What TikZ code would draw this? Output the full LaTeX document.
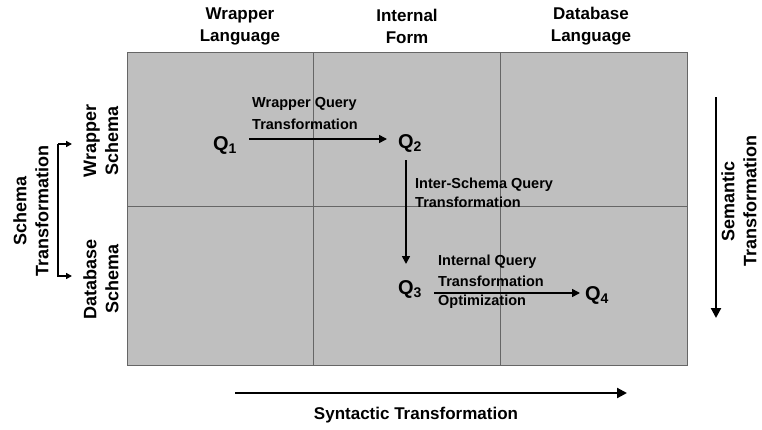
\documentclass[tikz,border=0pt]{standalone}
\usepackage{fontspec}
\setmainfont{Liberation Sans}
\usetikzlibrary{arrows.meta}
\begin{document}
\begin{tikzpicture}[x=1pt,y=-1pt,
  cell/.style={draw=black!60,line width=0.9pt},
  head/.style={font=\bfseries\fontsize{17}{22}\selectfont,align=center,inner sep=0pt},
  side/.style={head,rotate=90,font=\bfseries\fontsize{18}{22}\selectfont},
  lab/.style={font=\bfseries\fontsize{14.5}{19.5}\selectfont,align=left,inner sep=0pt},
  qn/.style={font=\bfseries\fontsize{20}{20}\selectfont,inner sep=0pt},
  flow/.style={line width=1.6pt,-{Triangle[length=8pt,width=8pt]}},
  axis/.style={line width=2.2pt,-{Triangle[length=10pt,width=10pt]}}]
\useasboundingbox (0,0) rectangle (762,429);
% grid of languages and schemas
\fill[black!25] (127,52) rectangle (687,365);
\draw[cell] (127,52) rectangle (687,365);
\draw[cell] (313,52) -- (313,365);
\draw[cell] (500,52) -- (500,365);
\draw[cell] (127,206) -- (687,206);
% column headings
\node[head] (hwl) at (240,26) {Wrapper\\Language};
\node[head] (hif) at (407,26) {Internal\\Form};
\node[head] (hdl) at (591,26) {Database\\Language};
% row headings
\node[side] (rws) at (101,141) {Wrapper\\Schema};
\node[side] (rds) at (101,279) {Database\\Schema};
\node[side] (st) at (31,211) {Schema\\Transformation};
\coordinate (bt) at (58,144);
\coordinate (bb) at (58,276);
\coordinate (btr) at (72,144);
\coordinate (bbr) at (72,276);
\draw[line width=1.6pt,-{Triangle[length=6pt,width=6pt]}] (bt) -- (bb) -- (bbr);
\draw[line width=1.6pt,-{Triangle[length=6pt,width=6pt]}] (bt) -- (btr);
% queries
\node[qn] (q1) at (225,145) {Q\textsubscript{1}};
\node[qn] (q2) at (410,143) {Q\textsubscript{2}};
\node[qn] (q3) at (410,289) {Q\textsubscript{3}};
\node[qn] (q4) at (597,295) {Q\textsubscript{4}};
\coordinate (a1s) at (249,139);
\coordinate (a1e) at (387,139);
\coordinate (a2s) at (406,160);
\coordinate (a2e) at (406,264);
\coordinate (a3s) at (434,293);
\coordinate (a3e) at (580,293);
\draw[flow] (a1s) -- (a1e);
\draw[flow] (a2s) -- (a2e);
\draw[flow] (a3s) -- (a3e);
\node[lab,anchor=west] (l1) at (252,104) {Wrapper Query};
\node[lab,anchor=west] (l1b) at (252,124) {Transformation};
\node[lab,anchor=west] (l2) at (415,185) {Inter-Schema Query};
\node[lab,anchor=west] (l2b) at (415,202) {Transformation};
\node[lab,anchor=west] (l3) at (438,262) {Internal Query};
\node[lab,anchor=west] (l3b) at (438,281) {Transformation};
\node[lab,anchor=west] (l4) at (438,302) {Optimization};
% axes
\coordinate (sa) at (716,97);
\coordinate (sb) at (716,318);
\draw[axis] (sa) -- (sb);
\node[side] (sem) at (739,201) {Semantic\\Transformation};
\coordinate (xa) at (235,393);
\coordinate (xb) at (627,393);
\draw[axis] (xa) -- (xb);
\node[head] (syn) at (416,415) {Syntactic Transformation};
\end{tikzpicture}
\end{document}
